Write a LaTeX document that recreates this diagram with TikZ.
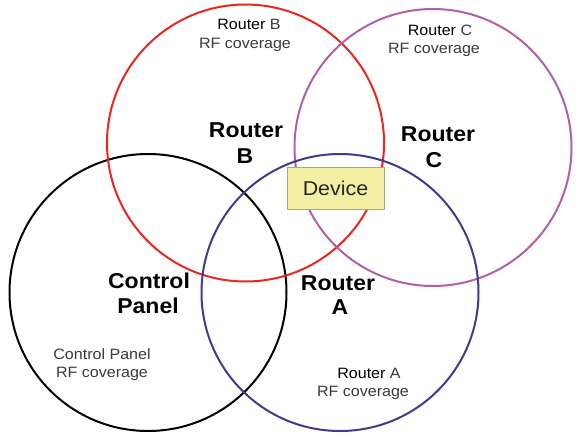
\documentclass[tikz,border=0pt]{standalone}
\usepackage{fontspec}
\setmainfont[FakeStretch=1.07]{Liberation Sans}
\definecolor{cred}{HTML}{E8281E}
\definecolor{cpurple}{HTML}{B35FA3}
\definecolor{cblue}{HTML}{3E3C8E}
\definecolor{devfill}{HTML}{F3EFA3}
\definecolor{devdraw}{HTML}{A9A78A}
\definecolor{tgray}{HTML}{3A3A3A}
\begin{document}
\begin{tikzpicture}[x=1pt,y=-1pt,
  zone/.style={circle, draw, line width=2pt, minimum size=277pt, inner sep=0pt},
  small/.style={font=\fontsize{15}{20}\selectfont, text=tgray, align=center, inner sep=0pt},
  big/.style={font=\fontsize{21.5}{26}\selectfont\bfseries, align=center, inner sep=0pt}]
\useasboundingbox (0,0) rectangle (584,439);
\fill[white] (0,0) rectangle (584,439);
\node[zone, draw=black] (cp) at (148,292.5) {};
\node[zone, draw=cred] (rb) at (245.5,143) {};
\node[zone, draw=cpurple] (rc) at (433,147.5) {};
\node[zone, draw=cblue] (ra) at (340,292.5) {};
% small labels
\node[small] (lb1) at (249,24) {\textcolor{black}{Router} B};
\node[small] (lb2) at (245,45) {RF coverage};
\node[small] (lc1) at (440,30) {\textcolor{black}{Router} C};
\node[small] (lc2) at (434,50) {RF coverage};
\node[small] (lp1) at (102,354) {Control Panel};
\node[small] (lp2) at (102,374) {RF coverage};
\node[small] (la1) at (369,373) {\textcolor{black}{Router} A};
\node[small] (la2) at (363,393) {RF coverage};
% big labels
\node[big] (bb1) at (246,130) {Router};
\node[big] (bb2) at (245,156) {B};
\node[big] (bc1) at (438,134) {Router};
\node[big] (bc2) at (434,160) {C};
\node[big] (bp1) at (149,281) {Control};
\node[big] (bp2) at (148,306) {Panel};
\node[big] (ba1) at (338,283) {Router};
\node[big] (ba2) at (340,307) {A};
% device
\node[draw=devdraw, fill=devfill, line width=1pt, minimum width=97pt, minimum height=42pt, inner sep=0pt,
  font=\fontsize{20}{24}\selectfont, text=black!85] (dev) at (335.5,188) {Device};
\end{tikzpicture}
\end{document}
